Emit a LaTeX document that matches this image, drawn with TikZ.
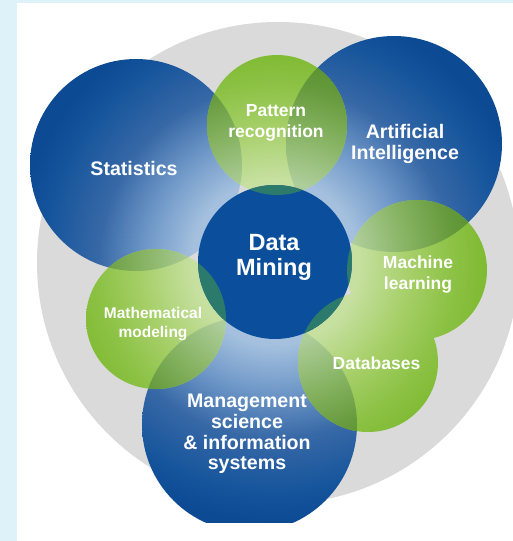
\documentclass[tikz,border=0pt]{standalone}
\usepackage{fontspec}
\setmainfont{Liberation Sans}
\usetikzlibrary{calc}

% palette
\definecolor{pagetint}{HTML}{DDF3F9}
\definecolor{ringgray}{HTML}{DADADA}
\definecolor{coreblue}{HTML}{0B4F9C}
\definecolor{coreteal}{HTML}{2C7A6C}
% blue discs, light near the core, dark far away
\definecolor{bl0}{HTML}{B2CBE5}
\definecolor{bl1}{HTML}{A4C0DE}
\definecolor{bl2}{HTML}{6F98C8}
\definecolor{bl3}{HTML}{3768A6}
\definecolor{bl4}{HTML}{16559C}
\definecolor{bl5}{HTML}{0C4B94}
% green discs
\definecolor{gr0}{HTML}{D2E7B2}
\definecolor{gr1}{HTML}{C6E0A0}
\definecolor{gr2}{HTML}{A6CF68}
\definecolor{gr3}{HTML}{8DC246}
\definecolor{gr4}{HTML}{7CB92E}
\definecolor{gr5}{HTML}{78B72A}
% green lying over blue
\definecolor{mx0}{HTML}{B5D29F}
\definecolor{mx1}{HTML}{ADCD99}
\definecolor{mx2}{HTML}{85B260}
\definecolor{mx3}{HTML}{669A3D}
\definecolor{mx4}{HTML}{548E28}

\pgfdeclareradialshading{bluefield}{\pgfpoint{0bp}{0bp}}{color(0bp)=(bl0); color(8bp)=(bl1); color(12.5bp)=(bl2); color(17bp)=(bl3); color(22bp)=(bl4); color(25bp)=(bl5); color(50bp)=(bl5)}
\pgfdeclareradialshading{greenfield}{\pgfpoint{0bp}{0bp}}{color(0bp)=(gr0); color(8bp)=(gr1); color(13bp)=(gr2); color(17bp)=(gr3); color(21bp)=(gr4); color(25bp)=(gr5); color(50bp)=(gr5)}
\pgfdeclareradialshading{mixfield}{\pgfpoint{0bp}{0bp}}{color(0bp)=(mx0); color(8bp)=(mx1); color(13bp)=(mx2); color(17bp)=(mx3); color(21bp)=(mx4); color(50bp)=(mx4)}

\tikzset{
  biglabel/.style={text=white, align=center, font=\fontsize{19.6}{20.7}\selectfont\bfseries},
  corelabel/.style={text=white, align=center, font=\fontsize{23.5}{25}\selectfont\bfseries},
  midlabel/.style={text=white, align=center, font=\fontsize{17.5}{21}\selectfont\bfseries},
  smalllabel/.style={text=white, align=center, font=\fontsize{15.5}{18.5}\selectfont\bfseries},
}

\begin{document}
\begin{tikzpicture}[x=1pt, y=-1pt]
\useasboundingbox (0,0) rectangle (513,541);
\fill[pagetint] (0,0) rectangle (513,541);
\fill[white] (17,3) rectangle (513,541);

% disc centres
\coordinate (ring) at (278,263);
\coordinate (core) at (275,262);
\coordinate (stat) at (136,165);
\coordinate (ai)   at (394,144);
\coordinate (mgmt) at (249.5,424.5);
\coordinate (patt) at (277,125);
\coordinate (mach) at (417,270);
\coordinate (math) at (156,319);
\coordinate (dbs)  at (368,362);
% square around the core that carries the radial shadings
\coordinate (fieldA) at (15,2);
\coordinate (fieldB) at (535,522);

% grey backdrop
\fill[ringgray] (ring) circle (241pt);

% blue discs
\foreach \c/\r in {stat/106pt, ai/108pt, mgmt/107.5pt}{
  \begin{scope}
    \clip (\c) circle (\r);
    \shade[shading=bluefield] (fieldA) rectangle (fieldB);
  \end{scope}
}

% green discs
\foreach \c/\r in {patt/70pt, mach/70pt, math/70pt, dbs/70pt}{
  \begin{scope}
    \clip (\c) circle (\r);
    \shade[shading=greenfield] (fieldA) rectangle (fieldB);
  \end{scope}
}

% green over blue
\foreach \g/\gr in {patt/70pt, mach/70pt, math/70pt, dbs/70pt}{
  \foreach \b/\br in {stat/106pt, ai/108pt, mgmt/107.5pt}{
    \begin{scope}
      \clip (\g) circle (\gr);
      \clip (\b) circle (\br);
      \shade[shading=mixfield] (fieldA) rectangle (fieldB);
    \end{scope}
  }
}

% core disc
\fill[coreblue] (core) circle (77pt);
\foreach \g/\gr in {patt/70pt, mach/70pt, math/70pt, dbs/70pt}{
  \begin{scope}
    \clip (core) circle (77pt);
    \clip (\g) circle (\gr);
    \fill[coreteal] (fieldA) rectangle (fieldB);
  \end{scope}
}

% labels
\node[biglabel] (tstat) at (134,168) {Statistics};
\node[biglabel] (tai) at (405,144) {Artificial\\Intelligence};
\node[biglabel] (tmgmt) at (247,434) {Management\\science\\\& information\\systems};
\node[corelabel] (tcore) at (274,257.5) {Data\\Mining};
\node[midlabel] (tpatt) at (276,123) {Pattern\\recognition};
\node[midlabel] (tmach) at (418,275) {Machine\\learning};
\node[midlabel] (tdbs) at (376.5,363.5) {Databases};
\node[smalllabel] (tmath) at (153,324) {Mathematical\\modeling};
\end{tikzpicture}
\end{document}
